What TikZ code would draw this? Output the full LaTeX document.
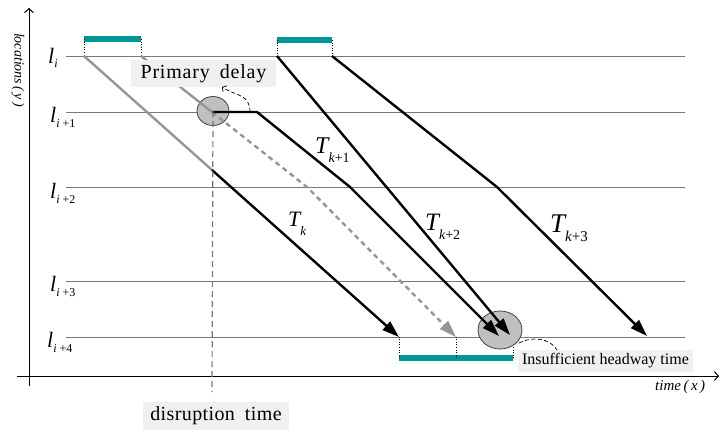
\documentclass[tikz,border=0pt]{standalone}
\usepackage{fontspec}
\setmainfont{Liberation Serif}
\usetikzlibrary{arrows.meta,shapes.geometric}
\definecolor{tealbar}{RGB}{0,150,150}
\definecolor{stline}{RGB}{120,120,120}
\definecolor{gtrain}{RGB}{150,150,150}
\definecolor{boxbg}{RGB}{240,240,240}
\definecolor{circfill}{RGB}{192,192,192}
\newcommand{\Tlab}[4]{{\fontsize{#1}{#1}\selectfont\itshape T}\raisebox{-9pt}{\fontsize{#2}{#2}\selectfont\itshape #3\upshape #4}}
\newcommand{\llab}[2]{{\fontsize{22}{22}\selectfont\itshape l}\raisebox{-#2pt}{\fontsize{12}{12}\selectfont\itshape i\upshape #1}}
\begin{document}
\begin{tikzpicture}[x=1pt,y=-1pt,
  station/.style={draw=stline,line width=1pt},
  axisline/.style={draw=black,line width=1pt,-{Straight Barb[length=4pt,width=9pt]}},
  gtrainline/.style={draw=gtrain,line width=2.4pt},
  btrain/.style={draw=black,line width=2.4pt},
  tip/.style={-{Triangle[length=17pt,width=11pt]}},
  planned/.style={draw=gtrain,line width=2.4pt,dash pattern=on 5pt off 4pt},
  tealline/.style={draw=tealbar,line width=5.5pt},
  dotv/.style={draw=black,line width=0.6pt,dotted},
  callout/.style={draw=black,line width=0.7pt,dash pattern=on 4pt off 2.5pt},
  labelbox/.style={fill=boxbg,inner sep=0pt},
  circ/.style={ellipse,draw=black!75,line width=0.8pt,fill=circfill,inner sep=0pt},
  lbl/.style={inner sep=0pt}]
\useasboundingbox (0,0) rectangle (720,432);

% station lines
\foreach \n/\y in {0/56,1/112,2/187,3/281,4/337}{
  \coordinate (sa\n) at (66,\y);
  \coordinate (sb\n) at (685,\y);
  \draw[station] (sa\n) -- (sb\n);
}

% axes
\coordinate (xa0) at (17,376); \coordinate (xa1) at (719,376);
\coordinate (ya0) at (29,386); \coordinate (ya1) at (29,8);
\draw[axisline] (xa0) -- (xa1);
\draw[axisline] (ya0) -- (ya1);

% axis labels
\node[lbl,rotate=-90] (ylab) at (18,70) {\fontsize{14}{14}\selectfont\itshape locations\,(\,y\,)};
\node[lbl,anchor=base west] (xlab) at (655,390) {\fontsize{15}{15}\selectfont\itshape time\,(\,x\,)};

% station labels
\node[lbl,anchor=base west] (L0) at (48,63) {\llab{}{4}};
\node[lbl,anchor=base west] (L1) at (50,122) {\llab{ +1}{5}};
\node[lbl,anchor=base west] (L2) at (50,198) {\llab{ +2}{5}};
\node[lbl,anchor=base west] (L3) at (50,291) {\llab{ +3}{5}};
\node[lbl,anchor=base west] (L4) at (47,347) {\llab{ +4}{5}};

% headway bars
\coordinate (b1a) at (84,39); \coordinate (b1b) at (141,39);
\coordinate (b2a) at (277,40); \coordinate (b2b) at (332,40);
\coordinate (b3a) at (399,358); \coordinate (b3m) at (456,358); \coordinate (b3b) at (513,358);
\draw[tealline] (b1a) -- (b1b);
\draw[tealline] (b2a) -- (b2b);
\draw[tealline] (b3a) -- (b3b);
\coordinate (d1a) at (84,56); \coordinate (d1b) at (141,56);
\coordinate (d2a) at (277,56); \coordinate (d2b) at (332,56);
\coordinate (d3a) at (399,337); \coordinate (d3m) at (456,337); \coordinate (d3b) at (513,337);
\draw[dotv] (b1a) -- (d1a); \draw[dotv] (b1b) -- (d1b);
\draw[dotv] (b2a) -- (d2a); \draw[dotv] (b2b) -- (d2b);
\draw[dotv] (b3a) -- (d3a); \draw[dotv] (b3m) -- (d3m); \draw[dotv] (b3b) -- (d3b);

% conflict circles
\node[circ,minimum width=32pt,minimum height=29pt] (E1) at (213,111) {};
\node[circ,minimum width=44pt,minimum height=38pt] (E2) at (500,330) {};

% train T_k
\coordinate (k0) at (84,56); \coordinate (kd) at (212,170); \coordinate (k1) at (399,337);
\draw[gtrainline] (k0) -- (kd);
\draw[btrain,tip] (kd) -- (k1);

% train T_{k+1}
\coordinate (a0) at (141,56); \coordinate (a1) at (212,112); \coordinate (a2) at (257,112);
\coordinate (a3) at (350,187); \coordinate (a4) at (499,336);
\coordinate (p2) at (307,187); \coordinate (p3) at (456,337);
\draw[gtrainline] (a0) -- (a1);
\draw[planned,-{Triangle[length=17pt,width=11pt,fill=gtrain]}] (a1) -- (p2) -- (p3);
\draw[btrain,tip,line join=round] (a1) -- (a2) -- (a3) -- (a4);

% train T_{k+2}
\coordinate (c0) at (277,56); \coordinate (c1) at (510,335);
\draw[btrain,tip] (c0) -- (c1);

% train T_{k+3}
\coordinate (e0) at (332,56); \coordinate (e1) at (497,187); \coordinate (e2) at (647,336);
\draw[btrain,tip,line join=round] (e0) -- (e1) -- (e2);

% disruption time line
\coordinate (dt1) at (212,392);
\draw[draw=stline,line width=1.2pt,dash pattern=on 6pt off 4pt] (E1.center) -- (dt1);

% label boxes
\node[labelbox,minimum width=145pt,minimum height=27pt] (PD) at (203.5,73.5) {};
\node[lbl] at (PD.center) {\fontsize{20}{20}\selectfont\addfontfeature{LetterSpace=4}Primary\hspace{10pt}delay};
\node[labelbox,minimum width=146pt,minimum height=28pt] (DT) at (216,416) {};
\node[lbl] at (DT.center) {\fontsize{20}{20}\selectfont\addfontfeature{LetterSpace=2}disruption\hspace{10pt}time};
\node[labelbox,minimum width=175pt,minimum height=22pt] (IH) at (605.5,361) {};
\node[lbl] at (IH.center) {\fontsize{16}{16}\selectfont Insufficient headway time};

% callouts
\coordinate (pd0) at (250,112); \coordinate (pd1) at (222,87);
\draw[callout,-{Straight Barb[length=3pt,width=7pt]}] (pd0) .. controls (250,94) and (236,96) .. (pd1);
\coordinate (ih0) at (519,343); \coordinate (ih1) at (557,350);
\draw[callout] (ih0) .. controls (532,336) and (550,338) .. (ih1);

% train labels
\node[lbl,anchor=base west] (Tk) at (288,226) {\Tlab{22}{13}{k}{}};
\node[lbl,anchor=base west] (Tk1) at (315,153) {\Tlab{24}{14}{k}{+1}};
\node[lbl,anchor=base west] (Tk2) at (425,230) {\Tlab{25}{14}{k}{+2}};
\node[lbl,anchor=base west] (Tk3) at (550,232) {\Tlab{27}{15}{k}{+3}};
\end{tikzpicture}
\end{document}
